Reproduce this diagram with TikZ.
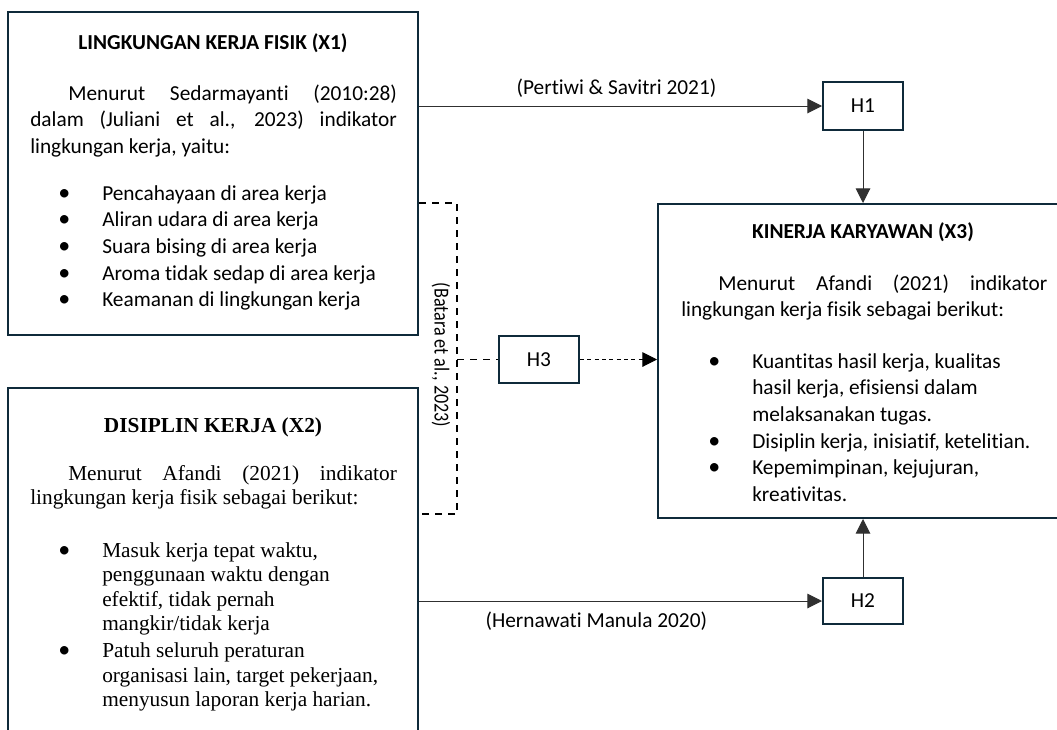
\documentclass[tikz,border=0pt]{standalone}
\usepackage{fontspec}
\setmainfont{Carlito}[Ligatures=NoCommon]
\newfontfamily\calibfont{Carlito}[Ligatures=NoCommon]
\newfontfamily\timesfont{Liberation Serif}
\usetikzlibrary{arrows.meta}

\definecolor{boxline}{HTML}{0F2A3A}
\definecolor{linegray}{HTML}{303030}

% bullet used in all three lists
\newcommand{\bul}{{\calibfont\fontsize{18}{20}\selectfont\textbullet}}

\tikzset{
  varbox/.style={draw=boxline, line width=1.5pt, inner sep=0pt, minimum width=307.5pt},
  hbox/.style={draw=boxline, line width=1.5pt, inner sep=0pt, minimum width=60pt, minimum height=35.25pt, font=\fontsize{16}{20}\selectfont},
  calib/.style={inner sep=0pt, font=\fontsize{16}{20}\selectfont},
  timesf/.style={inner sep=0pt, font=\timesfont\fontsize{16}{18.4}\selectfont},
  arr/.style={draw=linegray, line width=0.75pt, -{Triangle[length=11pt,width=11pt]}},
  dashbrk/.style={line width=0.9pt, dash pattern=on 5.25pt off 4.5pt},
  dashto/.style={line width=0.75pt, dash pattern=on 3pt off 2.5pt, -{Triangle[length=11pt,width=11pt]}}
}

\begin{document}
\begin{tikzpicture}[x=0.75pt,y=0.75pt,yscale=-1,xscale=1]
\useasboundingbox (0,0) rectangle (1057,729);

%Shape: Rectangle
\node[varbox, minimum height=242.25pt] (x1) at (213,173.5) {};
%Shape: Rectangle
\node[varbox, minimum height=294pt] (x2) at (213,584) {};
%Shape: Rectangle
\node[varbox, minimum height=235.5pt] (x3) at (863,361) {};
%Shape: Rectangle
\node[hbox, minimum height=36pt] (h1) at (863,106) {H1};
%Shape: Rectangle
\node[hbox] (h3) at (539,359.5) {H3};
%Shape: Rectangle
\node[hbox, minimum height=34.5pt] (h2) at (863,601) {H2};

% Text Node
\node[calib, anchor=base] (x1title) at (213,49) {\textbf{LINGKUNGAN KERJA FISIK (X1)}};
% Text Node
\node[calib, anchor=base west, text width=275pt, align=justify] (x1para) at (30,100) {\hspace*{28.5pt}Menurut Sedarmayanti (2010:28)\linebreak dalam (Juliani et al., 2023) indikator\linebreak lingkungan kerja, yaitu:};
% Text Node
\node[calib, anchor=base west] (x1list) at (58,200) {\begin{tabular}[t]{@{}p{33pt}@{}l@{}}
\bul & Pencahayaan di area kerja\\
\bul & Aliran udara di area kerja\\
\bul & Suara bising di area kerja\\
\bul & Aroma tidak sedap di area kerja\\
\bul & Keamanan di lingkungan kerja
\end{tabular}};

% Text Node
\node[timesf, anchor=base] (x2title) at (213,432) {\textbf{DISIPLIN KERJA (X2)}};
% Text Node
\node[timesf, anchor=base west, text width=275pt, align=justify] (x2para) at (30,480) {\hspace*{28.5pt}Menurut Afandi (2021) indikator\linebreak lingkungan kerja fisik sebagai berikut:};
% Text Node
\node[timesf, anchor=base west] (x2list) at (58,557) {\begin{tabular}[t]{@{}p{33pt}@{}l@{}}
\bul & Masuk kerja tepat waktu,\\
 & penggunaan waktu dengan\\
 & efektif, tidak pernah\\
 & mangkir/tidak kerja\\[2pt]
\bul & Patuh seluruh peraturan\\
 & organisasi lain, target pekerjaan,\\
 & menyusun laporan kerja harian.
\end{tabular}};

% Text Node
\node[calib, anchor=base] (x3title) at (863,238) {\textbf{KINERJA KARYAWAN (X3)}};
% Text Node
\node[calib, anchor=base west, text width=274.5pt, align=justify] (x3para) at (681,290) {\hspace*{27.75pt}Menurut Afandi (2021) indikator\linebreak lingkungan kerja fisik sebagai berikut:};
% Text Node
\node[calib, anchor=base west] (x3list) at (708,368) {\begin{tabular}[t]{@{}p{33pt}@{}l@{}}
\bul & Kuantitas hasil kerja, kualitas\\
 & hasil kerja, efisiensi dalam\\
 & melaksanakan tugas.\\
\bul & Disiplin kerja, inisiatif, ketelitian.\\
\bul & Kepemimpinan, kejujuran,\\
 & kreativitas.
\end{tabular}};

% Connectors
\draw[arr] (x1.east |- h1.west) -- (h1.west) node[calib, pos=0.49, above=6pt] (lblh1) {(Pertiwi \& Savitri 2021)};
\draw[arr] (x2.east |- h2.west) -- (h2.west) node[calib, pos=0.44, below=8pt] (lblh2) {(Hernawati Manula 2020)};
\draw[arr] (h1.south) -- (x3.north);
\draw[arr] (h2.north) -- (x3.south);

% Dashed bracket
\coordinate (brk) at (457,359.5);
\draw[dashbrk] (x1.east |- x3.north) -- (brk |- x3.north) -- (brk |- 0,514) -- (x2.east |- 0,514);
\draw[dashbrk] (brk) -- (h3.west);
\draw[dashto] (h3.east) -- (h3.east -| x3.west);
% Text Node
\node[calib, rotate=-90, xscale=0.85] (batara) at (441,355) {(Batara et al., 2023)};

\end{tikzpicture}
\end{document}
